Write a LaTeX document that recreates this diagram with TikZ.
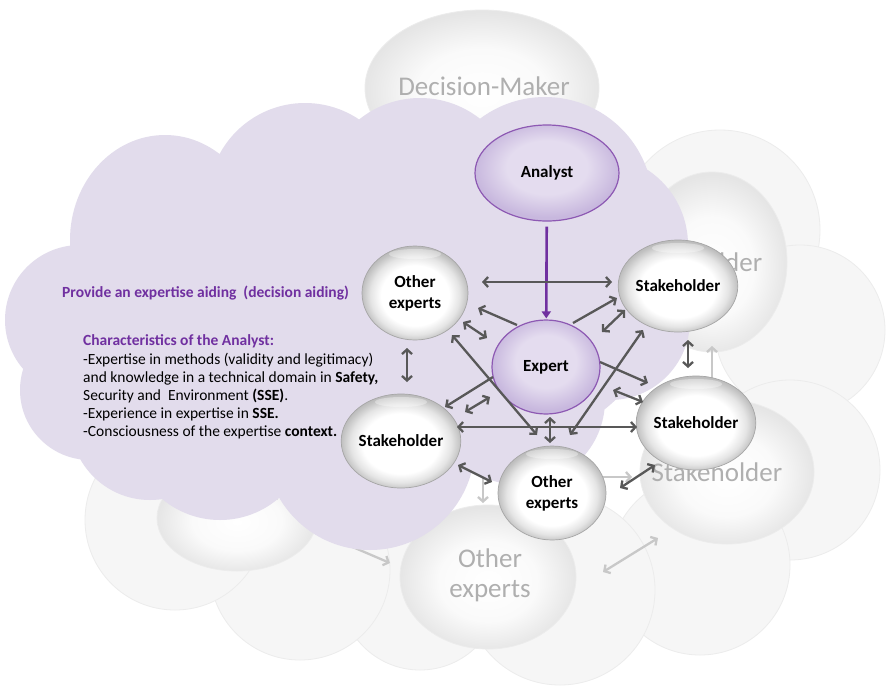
\documentclass[tikz,border=0pt]{standalone}
\usepackage{fontspec}
\setmainfont{Carlito}
\usetikzlibrary{shapes.geometric,arrows.meta,calc}

\definecolor{lav}{RGB}{226,220,236}
\definecolor{lavlight}{RGB}{228,220,239}
\definecolor{lavdark}{RGB}{200,184,222}
\definecolor{purp}{RGB}{112,48,160}
\definecolor{arrc}{RGB}{88,88,88}
\definecolor{fadearr}{RGB}{200,200,200}
\definecolor{fadetxt}{RGB}{175,175,175}
\definecolor{bgcloud}{RGB}{246,246,246}
\definecolor{bgedge}{RGB}{236,236,236}
\definecolor{rim}{RGB}{150,150,150}

\pgfdeclareradialshading{spherebw}{\pgfpoint{0bp}{-2bp}}{color(0bp)=(white); color(16bp)=(white); color(21bp)=(rim!25); color(25bp)=(rim!60); color(28bp)=(rim!75); color(50bp)=(rim!75)}
\pgfdeclareradialshading{purpball}{\pgfpoint{0bp}{4bp}}{color(0bp)=(lavlight); color(14bp)=(lavlight); color(25bp)=(lavdark); color(50bp)=(lavdark)}
\pgfdeclareradialshading{fadeball}{\pgfpoint{0bp}{-2bp}}{color(0bp)=(white); color(14bp)=(white!98!black); color(25bp)=(white!90!black); color(50bp)=(white!90!black)}

\tikzset{
  sph/.style={ellipse, shading=spherebw, draw=rim!85, line width=0.7pt, inner sep=0pt,
    align=center, font=\fontsize{17}{21}\selectfont\bfseries,
    path picture={\fill[white,opacity=0.35] ($(path picture bounding box.north)+(0,8)$) ellipse (26pt and 5pt);}},
  pball/.style={ellipse, shading=purpball, draw=purp!80, line width=1.2pt, inner sep=0pt,
    align=center, font=\fontsize{17}{21}\selectfont\bfseries},
  fsph/.style={ellipse, shading=fadeball, draw=bgedge, line width=0.8pt, inner sep=0pt},
  ftxt/.style={text=fadetxt, font=\fontsize{27}{34}\selectfont, inner sep=0pt, align=center},
  dbl/.style={draw=arrc, line width=2.3pt, {Straight Barb[length=4.5pt,width=10pt]}-{Straight Barb[length=4.5pt,width=10pt]}},
  sgl/.style={draw=arrc, line width=2.3pt, -{Straight Barb[length=4.5pt,width=10pt]}},
  fdbl/.style={draw=fadearr, line width=2.3pt, {Straight Barb[length=4.5pt,width=10pt]}-{Straight Barb[length=4.5pt,width=10pt]}},
  fsgl/.style={draw=fadearr, line width=2.3pt, -{Straight Barb[length=4.5pt,width=10pt]}},
  txtline/.style={anchor=base west, inner sep=0pt, font=\fontsize{15.5}{18}\selectfont},
}

\begin{document}
\begin{tikzpicture}[x=1pt,y=-1pt]
\useasboundingbox (0,0) rectangle (891,691);
\fill[white] (0,0) rectangle (891,691);

% faint grey background cloud
\foreach \cx/\cy/\r in {720/230/100, 800/330/85, 790/470/90, 700/565/90, 560/590/95, 420/590/80, 300/570/90, 175/520/90}{
  \filldraw[fill=bgcloud, draw=bgedge, line width=0.8pt] (\cx,\cy) circle (\r pt);
}

% faded spheres
\node[fsph, minimum width=234pt, minimum height=156pt] (fdm) at (482,88) {};
\node[ftxt] (fdmt) at (484,86) {Decision-Maker};
\node[fsph, minimum width=150pt, minimum height=180pt] (fsh1) at (712,262) {};
\node[ftxt] (fsh1t) at (697,262) {Stakeholder};
\node[fsph, minimum width=174pt, minimum height=144pt] (fsh2) at (727,472) {};
\node[ftxt] (fsh2t) at (717,472) {Stakeholder};
\node[fsph, minimum width=176pt, minimum height=144pt] (foe) at (488,577) {};
\node[ftxt] (foet) at (490,575) {Other\\[-4pt]experts};
\node[fsph, minimum width=160pt, minimum height=106pt] (fsh3) at (237,518) {};
\node[ftxt] (fsh3t) at (237,491) {Stakeholder};

% faded arrows
\coordinate (f1a) at (320,533); \coordinate (f1b) at (390,563);
\draw[fsgl] (f1a) -- (f1b);
\coordinate (f2a) at (603,572); \coordinate (f2b) at (658,538);
\draw[fdbl] (f2a) -- (f2b);
\coordinate (f3a) at (483,470); \coordinate (f3b) at (483,503);
\draw[fsgl] (f3a) -- (f3b);
\coordinate (f4a) at (598,477); \coordinate (f4b) at (632,477);
\draw[fsgl] (f4a) -- (f4b);
\coordinate (f5a) at (712,380); \coordinate (f5b) at (712,346);
\draw[fsgl] (f5a) -- (f5b);

% lavender cloud
\fill[lav] (80,320) circle (75pt)
  (90,390) circle (70pt)
  (150,420) circle (80pt)
  (220,430) circle (90pt)
  (370,445) circle (105pt)
  (165,240) ellipse (95pt and 105pt)
  (305,200) circle (97pt)
  (420,195) circle (97pt)
  (545,205) circle (108pt)
  (598,245) circle (90pt)
  (610,320) circle (80pt)
  (520,400) circle (85pt)
  (350,330) ellipse (300pt and 150pt);

% left texts
\node[txtline, font=\fontsize{15.5}{18}\selectfont\bfseries, text=purp] (prov) at (62,297) {Provide an expertise aiding\ \ (decision aiding)};
\node[txtline, font=\fontsize{15.5}{18}\selectfont\bfseries, text=purp] (chr) at (83,345) {Characteristics of the Analyst:};
\node[txtline] (l1) at (83,364) {-Expertise in methods (validity and legitimacy)};
\node[txtline] (l2) at (83,382) {and knowledge in a technical domain in \textbf{Safety,}};
\node[txtline] (l3) at (83,400) {Security and\ \ Environment \textbf{(SSE)}.};
\node[txtline] (l4) at (83,418) {-Experience in expertise in \textbf{SSE.}};
\node[txtline] (l5) at (83,436) {-Consciousness of the expertise \textbf{context.}};

% main nodes
\node[pball, minimum width=144pt, minimum height=96pt] (an) at (547,173) {Analyst};
\node[pball, minimum width=108pt, minimum height=94pt] (ex) at (546,367) {Expert};
\node[sph, minimum width=106pt, minimum height=94pt] (oe1) at (415,293) {Other\\experts};
\node[sph, minimum width=108pt, minimum height=92pt] (sh1) at (678,286) {Stakeholder};
\node[sph, minimum width=108pt, minimum height=94pt] (sh2) at (696,423) {Stakeholder};
\node[sph, minimum width=106pt, minimum height=94pt] (sh3) at (401,441) {Stakeholder};
\node[sph, minimum width=108pt, minimum height=94pt] (oe2) at (552,493) {Other\\experts};

% purple arrow
\draw[draw=purp, line width=2.6pt, -{Triangle[length=7pt,width=9pt]}, shorten <=5pt, shorten >=1pt] (an) -- (ex);

% dark arrows
\coordinate (a1s) at (482,282); \coordinate (a1e) at (612,282);
\draw[dbl] (a1s) -- (a1e);
\coordinate (a2s) at (517,325); \coordinate (a2e) at (478,308);
\draw[sgl] (a2s) -- (a2e);
\coordinate (a3s) at (463,322); \coordinate (a3e) at (487,338);
\draw[dbl] (a3s) -- (a3e);
\coordinate (a4s) at (452,335); \coordinate (a4e) at (537,435);
\draw[dbl] (a4s) -- (a4e);
\coordinate (a5s) at (643,330); \coordinate (a5e) at (570,435);
\draw[dbl] (a5s) -- (a5e);
\coordinate (a6s) at (573,323); \coordinate (a6e) at (617,298);
\draw[sgl] (a6s) -- (a6e);
\coordinate (a7s) at (602,332); \coordinate (a7e) at (625,310);
\draw[dbl] (a7s) -- (a7e);
\coordinate (a8s) at (688,340); \coordinate (a8e) at (688,368);
\draw[dbl] (a8s) -- (a8e);
\coordinate (a9s) at (600,362); \coordinate (a9e) at (648,383);
\draw[sgl] (a9s) -- (a9e);
\coordinate (a10s) at (613,390); \coordinate (a10e) at (643,402);
\draw[dbl] (a10s) -- (a10e);
\coordinate (a11s) at (457,427); \coordinate (a11e) at (637,427);
\draw[dbl] (a11s) -- (a11e);
\coordinate (a12s) at (493,377); \coordinate (a12e) at (445,407);
\draw[sgl] (a12s) -- (a12e);
\coordinate (a13s) at (465,412); \coordinate (a13e) at (490,397);
\draw[dbl] (a13s) -- (a13e);
\coordinate (a14s) at (550,417); \coordinate (a14e) at (550,443);
\draw[dbl] (a14s) -- (a14e);
\coordinate (a15s) at (458,465); \coordinate (a15e) at (492,482);
\draw[dbl] (a15s) -- (a15e);
\coordinate (a16s) at (620,488); \coordinate (a16e) at (655,465);
\draw[dbl] (a16s) -- (a16e);
\coordinate (a17s) at (407,348); \coordinate (a17e) at (407,382);
\draw[dbl] (a17s) -- (a17e);
\end{tikzpicture}
\end{document}
